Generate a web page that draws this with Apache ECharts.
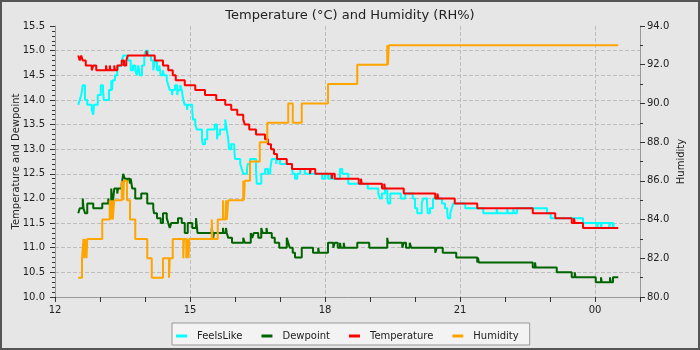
<!DOCTYPE html>
<html><head><meta charset="utf-8">
<script src="https://cdn.jsdelivr.net/npm/echarts@6/dist/echarts.min.js"></script>
<style>html,body{margin:0;padding:0;background:#e6e6e6}#c{width:700px;height:350px}</style>
</head><body><div id="c"></div>
<script>
// ---- data (time HH:MM, value); after midnight times are next day ----
const xTickLabels = ['12', '15', '18', '21', '00'];

const feelsLike = [
['12:31',13.9],['12:33',14.0],['12:35',14.1],['12:37',14.3],['12:40',14.0],['12:43',13.9],['12:49',13.8],['12:51',13.7],['12:52',13.9],['12:57',14.1],
['13:01',14.3],['13:04',14.2],['13:05',14.0],['13:12',14.2],['13:15',14.4],['13:16',14.2],['13:17',14.4],['13:20',14.5],['13:23',14.6],['13:25',14.7],
['13:29',14.8],['13:31',14.9],['13:37',14.8],['13:41',14.6],['13:44',14.7],['13:47',14.6],['13:49',14.5],['13:51',14.7],['13:53',14.5],['13:56',14.7],
['13:59',14.9],['14:01',15.0],['14:04',14.9],['14:08',14.8],['14:11',14.6],['14:13',14.8],['14:16',14.6],['14:19',14.7],['14:21',14.5],['14:24',14.6],
['14:25',14.5],['14:29',14.4],['14:31',14.3],['14:33',14.2],['14:36',14.1],['14:37',14.2],['14:40',14.3],['14:43',14.1],['14:44',14.2],['14:47',14.3],
['14:49',14.2],['14:51',14.0],['14:53',13.9],['14:56',13.8],['14:57',13.9],['15:03',13.8],['15:04',13.6],['15:07',13.5],['15:09',13.4],['15:16',13.2],
['15:17',13.1],['15:20',13.2],['15:23',13.4],['15:33',13.5],['15:36',13.2],['15:37',13.3],['15:40',13.4],['15:47',13.6],['15:49',13.4],['15:51',13.2],
['15:52',13.0],['15:55',13.1],['15:59',13.0],['16:00',12.8],['16:07',12.7],['16:09',12.6],['16:11',12.5],['16:16',12.6],['16:17',12.7],['16:20',12.8],
['16:28',12.6],['16:29',12.3],['16:35',12.5],['16:40',12.6],['16:44',12.5],['16:47',12.6],['16:49',12.8],['16:55',12.7],['16:56',12.8],['17:00',12.7],
['17:16',12.6],['17:17',12.5],['17:20',12.4],['17:23',12.5],['17:27',12.6],['17:33',12.5],['17:56',12.4],['18:00',12.5],['18:04',12.4],['18:07',12.5],
['18:09',12.4],['18:20',12.6],['18:23',12.5],['18:31',12.3],['18:57',12.2],['19:11',12.1],['19:13',12.0],['19:16',12.1],['19:20',12.2],['19:23',12.0],
['19:24',11.9],['19:27',12.1],['19:41',12.0],['19:47',12.1],['19:57',12.0],['20:00',11.8],['20:03',11.7],['20:09',11.9],['20:11',12.0],['20:16',11.9],
['20:17',11.7],['20:20',11.8],['20:24',12.0],['20:36',11.9],['20:40',11.8],['20:43',11.7],['20:44',11.6],['20:47',11.7],['20:49',11.8],['20:51',11.9],
['21:07',11.8],['21:31',11.7],['21:49',11.8],['21:50',11.7],['22:03',11.8],['22:04',11.7],['22:11',11.8],['22:12',11.7],['22:16',11.8],['22:56',11.7],
['23:01',11.6],['23:44',11.5],['00:03',11.4],['00:04',11.5],['00:08',11.4],['00:09',11.5],['00:19',11.4],['00:20',11.5],['00:24',11.4],['00:25',11.5]
];

const dewpoint = [
['12:31',11.7],['12:33',11.8],['12:37',12.0],['12:38',11.8],['12:40',11.7],['12:43',11.9],['12:51',11.8],['13:03',11.9],['13:11',12.0],['13:12',11.9],
['13:15',12.2],['13:16',12.0],['13:17',11.9],['13:19',12.2],['13:23',12.1],['13:24',12.2],['13:29',12.3],['13:31',12.5],['13:33',12.4],['13:36',12.3],
['13:37',12.4],['13:40',12.3],['13:41',12.4],['13:43',12.2],['13:47',12.0],['13:55',12.1],['14:03',11.9],['14:11',11.8],['14:12',11.7],['14:16',11.6],
['14:21',11.5],['14:24',11.7],['14:29',11.6],['14:31',11.5],['14:33',11.4],['14:35',11.5],['14:44',11.6],['14:49',11.5],['14:53',11.3],['14:57',11.5],
['15:03',11.4],['15:08',11.6],['15:10',11.3],['15:29',11.4],['15:31',11.2],['15:32',11.3],['15:44',11.4],['15:45',11.3],['15:48',11.4],['15:49',11.3],
['15:51',11.2],['15:56',11.1],['16:11',11.2],['16:13',11.1],['16:21',11.3],['16:23',11.2],['16:25',11.3],['16:31',11.2],['16:35',11.4],['16:37',11.3],
['16:42',11.4],['16:43',11.3],['16:49',11.2],['16:53',11.1],['16:59',11.0],['17:09',11.2],['17:11',11.1],['17:13',11.0],['17:17',10.9],['17:20',10.8],
['17:29',11.0],['17:44',10.9],['17:51',11.0],['17:52',10.9],['18:04',11.1],['18:11',11.0],['18:13',11.1],['18:17',11.0],['18:20',11.1],['18:21',11.0],
['18:25',11.1],['18:26',11.0],['18:43',11.1],['18:59',11.0],['19:23',11.2],['19:24',11.1],['19:43',11.0],['19:45',11.1],['19:48',11.0],['19:53',11.1],
['19:55',11.0],['20:27',10.9],['20:29',11.0],['20:37',10.9],['20:55',10.8],['21:23',10.7],['21:24',10.8],['21:25',10.7],['22:37',10.6],['22:40',10.7],
['22:41',10.6],['23:09',10.5],['23:29',10.4],['23:33',10.5],['23:34',10.4],['00:01',10.3],['00:08',10.4],['00:09',10.3],['00:20',10.4],['00:21',10.3],
['00:24',10.4],['00:31',10.4]
];

const temperature = [
['12:31',14.9],['12:33',14.8],['12:35',14.9],['12:37',14.8],['12:41',14.7],['12:49',14.6],['12:51',14.7],['12:55',14.6],['13:08',14.7],['13:09',14.6],
['13:13',14.7],['13:14',14.6],['13:19',14.7],['13:20',14.6],['13:23',14.7],['13:29',14.8],['13:32',14.7],['13:35',14.8],['13:37',14.9],['14:02',15.0],
['14:03',14.9],['14:13',14.8],['14:24',14.7],['14:31',14.6],['14:37',14.5],['14:41',14.4],['14:53',14.3],['15:07',14.2],['15:20',14.1],['15:35',14.0],
['15:47',13.9],['15:55',13.8],['16:03',13.7],['16:11',13.6],['16:13',13.5],['16:19',13.4],['16:28',13.3],['16:40',13.2],['16:44',13.1],['16:48',13.0],
['16:52',12.9],['16:56',12.8],['17:09',12.7],['17:16',12.6],['17:40',12.5],['17:41',12.6],['17:47',12.5],['18:09',12.4],['18:10',12.5],['18:13',12.4],
['18:45',12.3],['18:48',12.4],['18:49',12.3],['19:16',12.2],['19:19',12.3],['19:20',12.2],['19:45',12.1],['20:27',12.0],['20:30',12.1],['20:31',12.0],
['20:53',11.9],['21:23',11.8],['22:37',11.7],['23:07',11.6],['23:29',11.5],['23:32',11.6],['23:33',11.5],['23:44',11.4],['00:31',11.4]
];

const humidity = [
['12:31',81],['12:36',82],['12:38',83],['12:39',82],['12:40',83],['12:42',82],['12:43',83],['13:03',84],['13:13',85],['13:14',84],
['13:16',85],['13:17',84],['13:19',85],['13:29',86],['13:31',85],['13:32',86],['13:36',85],['13:40',84],['13:47',83],['14:03',82],
['14:09',81],['14:24',82],['14:32',81],['14:33',82],['14:37',83],['14:51',82],['14:52',83],['14:55',82],['14:56',83],['14:58',82],
['14:59',83],['15:29',84],['15:30',83],['15:37',84],['15:44',85],['15:45',84],['15:48',85],['15:49',84],['15:51',85],['16:11',86],
['16:12',85],['16:13',86],['16:20',87],['16:33',88],['16:43',89],['17:11',90],['17:17',89],['17:29',90],['18:04',91],['18:43',92],
['19:23',93],['19:24',92],['19:25',93],['00:31',93]
];

// ---- helpers ----
const toHour = s => { const [h, m] = s.split(':').map(Number); return (h < 12 ? h + 24 : h) + m / 60; };
const mk = arr => arr.map(([t, v]) => [toHour(t), v]);

const FONT = 'DejaVu Sans';
const tickColor = '#333';
const axisColor = '#999';

const chart = echarts.init(document.getElementById('c'), null, {renderer: 'canvas'});
const lineSeries = (name, data, color, yIdx) => ({
  name, type: 'line', step: 'end', yAxisIndex: yIdx, data: mk(data),
  symbol: 'none', showSymbol: false, lineStyle: {width: 2, color}, itemStyle: {color},
  emphasis: {disabled: true}
});

chart.setOption({
  animation: false,
  backgroundColor: '#e6e6e6',
  textStyle: {fontFamily: FONT},
  title: {
    text: 'Temperature (°C) and Humidity (RH%)', left: 'center', top: 4,
    textStyle: {fontFamily: FONT, fontSize: 13, fontWeight: 'normal', color: '#222'}
  },
  grid: {left: 55, right: 60, top: 26, bottom: 53, containLabel: false, outerBoundsMode: 'none'},
  legend: {
    left: 172, top: 323, orient: 'horizontal',
    backgroundColor: '#f3f3f3', borderColor: '#999', borderWidth: 1, borderRadius: 0,
    padding: [8, 11, 4, 4], itemGap: 19, itemWidth: 11, itemHeight: 3, icon: 'rect',
    textStyle: {fontFamily: FONT, fontSize: 10, color: '#222', padding: [0, 0, 0, 5]},
    data: ['FeelsLike', 'Dewpoint', 'Temperature', 'Humidity']
  },
  xAxis: {
    type: 'value', min: 12, max: 25, interval: 3,
    axisLine: {lineStyle: {color: axisColor}},
    axisTick: {length: 5, lineStyle: {color: tickColor}},
    minorTick: {show: true, splitNumber: 3, length: 5, lineStyle: {color: tickColor}},
    axisLabel: {
      formatter: v => { const i = (v - 12) / 3; return Number.isInteger(i) ? (xTickLabels[i] ?? '') : ''; },
      color: '#222', fontSize: 10, fontFamily: FONT, margin: 8
    },
    splitLine: {show: true, showMinLine: false, showMaxLine: false, lineStyle: {type: 'dashed', color: '#bdbdbd'}}
  },
  yAxis: [{
    type: 'value', min: 10, max: 15.5, interval: 0.5, position: 'left',
    name: 'Temperature and Dewpoint', nameLocation: 'middle', nameGap: 34, nameRotate: 90, nameMoveOverlap: false,
    nameTextStyle: {fontFamily: FONT, fontSize: 10, color: '#222'},
    axisLine: {show: true, lineStyle: {color: axisColor}},
    axisTick: {show: true, length: 5, lineStyle: {color: tickColor}},
    minorTick: {show: true, splitNumber: 5, length: 3, lineStyle: {color: tickColor}},
    axisLabel: {formatter: v => v.toFixed(1), color: '#222', fontSize: 10, fontFamily: FONT, margin: 10},
    splitLine: {show: true, showMinLine: false, showMaxLine: false, lineStyle: {type: 'dashed', color: '#bdbdbd'}}
  }, {
    type: 'value', min: 80, max: 94, interval: 2, position: 'right',
    name: 'Humidity', nameLocation: 'middle', nameGap: 36, nameRotate: 90, nameMoveOverlap: false,
    nameTextStyle: {fontFamily: FONT, fontSize: 10, color: '#222'},
    axisLine: {show: true, lineStyle: {color: axisColor}},
    axisTick: {show: true, length: 5, lineStyle: {color: tickColor}},
    minorTick: {show: true, splitNumber: 2, length: 3, lineStyle: {color: tickColor}},
    axisLabel: {formatter: v => v.toFixed(1), color: '#222', fontSize: 10, fontFamily: FONT, margin: 7},
    splitLine: {show: false}
  }],
  graphic: [{
    type: 'rect', z: 100, silent: true,
    shape: {x: 1, y: 1, width: 698, height: 348},
    style: {fill: 'none', stroke: '#555', lineWidth: 2}
  }],
  series: [
    lineSeries('FeelsLike', feelsLike, '#00ffff', 0),
    lineSeries('Dewpoint', dewpoint, '#006400', 0),
    lineSeries('Temperature', temperature, '#ff0000', 0),
    lineSeries('Humidity', humidity, '#ffa500', 1)
  ]
});
</script>
</body></html>
